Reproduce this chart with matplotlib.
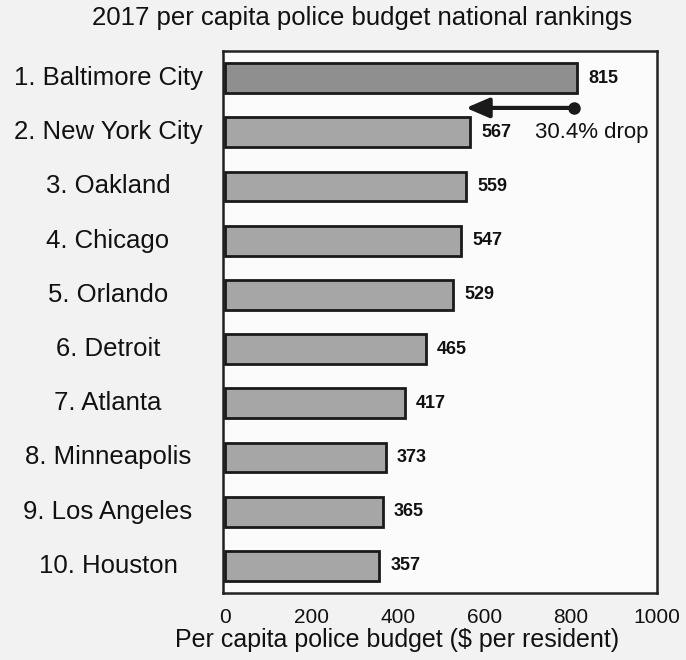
import numpy as np
import matplotlib.pyplot as plt
from matplotlib.transforms import blended_transform_factory

plt.rcParams['font.family'] = ['Liberation Sans', 'DejaVu Sans']

# Data
cities = ["1. Baltimore City", "2. New York City", "3. Oakland", "4. Chicago",
          "5. Orlando", "6. Detroit", "7. Atlanta", "8. Minneapolis",
          "9. Los Angeles", "10. Houston"]
budget = [815, 567, 559, 547, 529, 465, 417, 373, 365, 357]
xticks = [0, 200, 400, 600, 800, 1000]
drop_label = "30.4% drop"

fig = plt.figure(figsize=(6.86, 6.6), dpi=100, facecolor="#f2f2f2")
ax = fig.add_axes([223/686, 1 - 593/660, 434/686, 542/660])
ax.set_facecolor("#fbfbfb")

y = np.arange(len(cities))
colors = ["#8f8f8f"] + ["#a6a6a6"]*(len(cities) - 1)
ax.barh(y, budget, height=0.55, color=colors, edgecolor="#1a1a1a", lw=2)

for yi, val in zip(y, budget):
    ax.annotate(str(val), (val, yi), xytext=(8, 0), textcoords="offset points",
                va="center", ha="left", fontsize=13, fontweight="bold",
                color="#111111")

# city names, centered in the left margin
trans = blended_transform_factory(fig.transFigure, ax.transData)
for yi, name in zip(y, cities):
    ax.text(108/686, yi, name, transform=trans, ha="center", va="center",
            fontsize=18.5, color="#111111")

# the drop arrow between first and second
ax.annotate("", xy=(558, 0.55), xytext=(808, 0.55),
            arrowprops=dict(arrowstyle="-|>,head_length=1.4,head_width=0.6",
                            color="#1a1a1a", lw=3, shrinkA=0, shrinkB=0))
ax.plot(808, 0.55, "o", color="#1a1a1a", ms=8)
ax.text(718, 1, drop_label, ha="left", va="center", fontsize=16,
        color="#111111")

ax.set_xlim(-4, 1000)
ax.set_ylim(9.5, -0.5)
ax.set_yticks([])
ax.set_xticks(xticks)
ax.set_xticklabels([str(t) for t in xticks], fontsize=15, color="#111111")
ax.tick_params(axis="x", length=0, pad=11)
for s in ax.spines.values():
    s.set_color("#222222")
    s.set_linewidth(1.8)

fig.text(362/686, 1 - 18/660, "2017 per capita police budget national rankings",
         ha="center", va="center", fontsize=18.5, color="#111111")
fig.text(397/686, 1 - 640/660, "Per capita police budget ($ per resident)",
         ha="center", va="center", fontsize=18, color="#111111")

fig.savefig("out.png", dpi=100, facecolor=fig.get_facecolor())
